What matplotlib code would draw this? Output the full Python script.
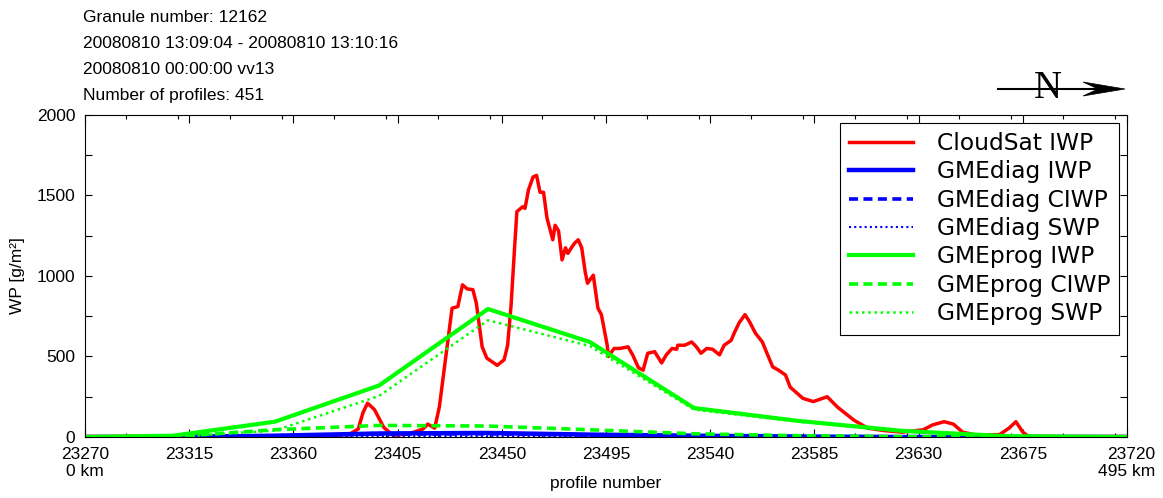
import matplotlib
matplotlib.use("Agg")
import matplotlib.pyplot as plt
from matplotlib.ticker import MultipleLocator
from matplotlib.patches import Polygon

plt.rcParams['font.family'] = ['Liberation Sans', 'DejaVu Sans']

# header block
header = ["Granule number: 12162",
          "20080810 13:09:04 - 20080810 13:10:16",
          "20080810 00:00:00 vv13",
          "Number of profiles: 451"]

# CloudSat IWP
cs_x = [23270, 23320, 23360, 23384, 23388, 23390, 23392, 23395, 23399, 23403,
        23410, 23416, 23418, 23421, 23423, 23426, 23428.5, 23431, 23433, 23435,
        23437.5, 23439, 23441.5, 23443.5, 23448, 23451, 23452.5, 23454, 23455.5,
        23456.5, 23459, 23460, 23461.5, 23463.5, 23465, 23466.5, 23468, 23469.5,
        23472, 23473, 23474.5, 23476, 23477.5, 23478.5, 23480, 23481.5, 23483,
        23484.5, 23486, 23487, 23489.5, 23491.5, 23493, 23495.5, 23496, 23498.5,
        23501, 23504.5, 23506.5, 23509, 23511, 23513, 23516, 23519, 23521,
        23523.5, 23525.5, 23526, 23529, 23532, 23534, 23536, 23538.5, 23541,
        23544, 23546, 23549, 23550.5, 23552.5, 23555, 23557, 23559.5, 23562.5,
        23564.5, 23567, 23569.5, 23572.5, 23574.5, 23580, 23584.5, 23590.5,
        23595, 23602, 23608, 23615, 23623, 23632, 23636, 23641, 23645, 23649,
        23655, 23665, 23669, 23672, 23675, 23677, 23680, 23720]
cs_iwp = [3, 4, 8, 15, 50, 150, 210, 170, 60, 10,
          20, 50, 80, 55, 185, 520, 800, 810, 945, 920,
          915, 830, 560, 490, 445, 480, 570, 820, 1175,
          1400, 1430, 1420, 1535, 1615, 1625, 1520, 1520, 1360,
          1225, 1315, 1280, 1100, 1175, 1140, 1175, 1205, 1225,
          1175, 1025, 955, 1005, 800, 760, 570, 500, 550,
          550, 560, 510, 430, 415, 520, 530, 460, 510,
          550, 545, 570, 570, 590, 560, 520, 550, 545,
          510, 570, 600, 650, 710, 760, 715, 645, 590,
          520, 435, 415, 385, 310, 240, 220, 250,
          185, 105, 55, 40, 30, 45, 75, 95, 80, 30,
          12, 15, 55, 95, 30, 8, 3, 3]

# GME model columns
gme_x = [23270, 23308, 23352, 23397, 23444, 23488, 23533, 23578, 23623, 23668, 23720]
diag_iwp = [0, 0, 8, 22, 25, 15, 8, 3, 0, 0, 0]
diag_ciwp = [0, 0, 6, 18, 20, 12, 6, 2, 0, 0, 0]
diag_swp = [0, 0, 2, 5, 5, 4, 3, 2, 1, 0, 0]
prog_iwp = [0, 8, 95, 320, 795, 590, 180, 100, 38, 5, 0]
prog_ciwp = [0, 3, 45, 72, 68, 45, 20, 8, 2, 0, 0]
prog_swp = [0, 0, 40, 255, 725, 565, 170, 95, 35, 5, 0]

xticks = list(range(23270, 23721, 45))

fig = plt.figure(figsize=(11.63, 4.98), dpi=100)
ax = fig.add_axes([0.0731, 0.1225, 0.896, 0.6466])

ax.plot(cs_x, cs_iwp, color='#ff0000', lw=2.5, label='CloudSat IWP')
ax.plot(gme_x, diag_iwp, color='#0000ff', lw=3.2, label='GMEdiag IWP')
ax.plot(gme_x, diag_ciwp, color='#0000ff', lw=2.6, ls=(0, (2.5, 1.5)), label='GMEdiag CIWP')
ax.plot(gme_x, diag_swp, color='#0000ff', lw=1.5, ls=(0, (1, 1.5)), label='GMEdiag SWP')
ax.plot(gme_x, prog_iwp, color='#00ff00', lw=3, label='GMEprog IWP')
ax.plot(gme_x, prog_ciwp, color='#00ff00', lw=2.6, ls=(0, (2.5, 1.5)), label='GMEprog CIWP')
ax.plot(gme_x, prog_swp, color='#00ff00', lw=1.8, ls=(0, (1, 1.5)), label='GMEprog SWP')

ax.set_xlim(23270, 23720)
ax.set_ylim(0, 2000)
ax.set_xticks(xticks)
labels = [str(v) for v in xticks]
labels[0] = "23270\n0 km"
labels[-1] = "23720\n495 km"
ax.set_xticklabels(labels)
ax.get_xticklabels()[-1].set_multialignment('right')
ax.xaxis.set_minor_locator(MultipleLocator(22.5))
ax.set_yticks([0, 500, 1000, 1500, 2000])
ax.yaxis.set_minor_locator(MultipleLocator(250))
ax.tick_params(which='both', direction='in', top=True, right=True, labelsize=12.5, width=0.8)
ax.tick_params(which='major', length=6, pad=7)
ax.tick_params(which='minor', length=3)
ax.tick_params(axis='y', which='both', length=5)
for s in ax.spines.values():
    s.set_linewidth(0.8)

ax.set_xlabel("profile number", fontsize=12.5, labelpad=-2)
ax.set_ylabel("WP [g/m²]", fontsize=12.5, labelpad=8)

leg = ax.legend(loc='upper right', prop={'family': 'DejaVu Sans', 'size': 16.8},
                frameon=True, fancybox=False, framealpha=1, edgecolor='black',
                handlelength=2.75, handletextpad=1.0, labelspacing=0.23,
                borderpad=0.4, borderaxespad=0.33)
leg.get_frame().set_linewidth(0.8)

for i, line in enumerate(header):
    fig.text(83 / 1163, 1 - (17 + 26.3 * i) / 498, line, fontsize=12.5,
             ha='left', va='center')

# north arrow
ny = 1 - 89 / 498
fig.add_artist(plt.Line2D([998 / 1163, 1100 / 1163], [ny, ny], color='black', lw=1.5))
head = Polygon([(1125 / 1163, ny), (1083 / 1163, ny + 7 / 498),
                (1098 / 1163, ny), (1083 / 1163, ny - 7 / 498)],
               closed=True, transform=fig.transFigure, color='black', lw=0.5)
fig.add_artist(head)
fig.text(1048 / 1163, ny, "N", family='Liberation Serif', fontsize=28,
         ha='center', va='center')

fig.savefig("out.png", dpi=100)
